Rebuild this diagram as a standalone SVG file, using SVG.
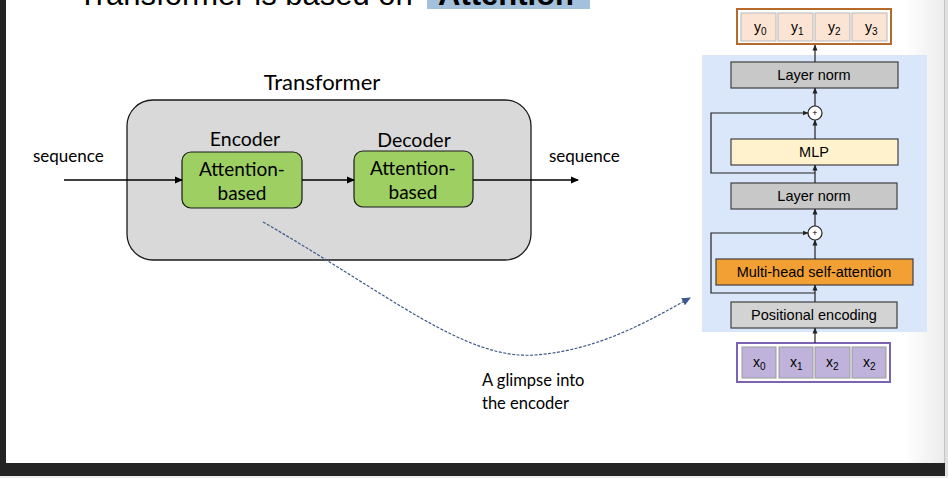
<svg xmlns="http://www.w3.org/2000/svg" width="948" height="478" viewBox="0 0 948 478">
<defs>
<style>
.lbl{font-family:Lato,"Open Sans","Liberation Sans",sans-serif;fill:#000}
.ar{font-family:"Liberation Sans",Arial,sans-serif;fill:#000}
.blk{stroke:#404040;stroke-width:1.2}
.ln{stroke:#222;stroke-width:1.2;fill:none}
</style>
<marker id="ah" markerWidth="8" markerHeight="8" refX="7" refY="4" orient="auto" markerUnits="userSpaceOnUse">
<path d="M0,0.5 L8,4 L0,7.5 Z" fill="#000"/>
</marker>
<marker id="sh" markerWidth="6" markerHeight="6" refX="5.5" refY="3" orient="auto" markerUnits="userSpaceOnUse">
<path d="M0,0.5 L6,3 L0,5.5 Z" fill="#222"/>
</marker>
<marker id="bh" markerWidth="9" markerHeight="9" refX="8" refY="4.5" orient="auto" markerUnits="userSpaceOnUse">
<path d="M0,0.5 L9,4.5 L0,8.5 Z" fill="#3d5a8a"/>
</marker>
<linearGradient id="edge" x1="0" x2="1" y1="0" y2="0">
<stop offset="0" stop-color="#ffffff"/>
<stop offset="1" stop-color="#ececec"/>
</linearGradient>
</defs>
<rect width="948" height="478" fill="#fff"/>
<rect x="905" y="0" width="39" height="463" fill="url(#edge)"/>
<rect x="944" y="0" width="1" height="478" fill="#c4c4c4"/>
<rect x="945" y="0" width="3" height="478" fill="#e0e0e0"/>
<rect x="0" y="476" width="948" height="2" fill="#ececec"/>
<rect x="0" y="463" width="945" height="13" fill="#232323"/>
<rect x="0" y="0" width="6" height="476" fill="#232323"/>

<g id="title">
<rect x="427" y="0" width="163" height="9" fill="#a3c0dc"/>
<text x="78" y="5" class="ar" font-size="31">Transformer is based on</text>
<text x="438" y="5" class="ar" font-size="31" font-weight="bold" fill="#222">Attention</text>
</g>

<g id="transformer">
<rect x="127" y="100" width="404" height="160" rx="26" fill="#d9d9d9" stroke="#1a1a1a" stroke-width="1.3"/>
<text x="322" y="90" class="lbl" font-size="22" text-anchor="middle">Transformer</text>
</g>

<g id="encoder">
<text x="245" y="146" class="lbl" font-size="19.5" text-anchor="middle">Encoder</text>
<rect x="182" y="152" width="120" height="56" rx="9" fill="#9dcf62" stroke="#1a1a1a" stroke-width="1.2"/>
<text x="242" y="176" class="lbl" font-size="19" text-anchor="middle">Attention-</text>
<text x="242" y="200" class="lbl" font-size="19" text-anchor="middle">based</text>
</g>

<g id="decoder">
<text x="414" y="147" class="lbl" font-size="19.5" text-anchor="middle">Decoder</text>
<rect x="354" y="151" width="119" height="56" rx="9" fill="#9dcf62" stroke="#1a1a1a" stroke-width="1.2"/>
<text x="413" y="175" class="lbl" font-size="19" text-anchor="middle">Attention-</text>
<text x="413" y="199" class="lbl" font-size="19" text-anchor="middle">based</text>
</g>

<g id="labels">
<text x="33" y="162" class="lbl" font-size="17">sequence</text>
<text x="549" y="162" class="lbl" font-size="17">sequence</text>
<text x="482" y="386" class="lbl" font-size="16.5">A glimpse into</text>
<text x="482" y="409" class="lbl" font-size="16.5">the encoder</text>
</g>

<g id="panel">
<rect x="702" y="55" width="225" height="277" fill="#dae7fb"/>
</g>

<g id="outputs">
<rect x="737" y="9" width="154" height="35" fill="#fff" stroke="#b5692a" stroke-width="2"/>
<rect x="741" y="13" width="35" height="28" fill="#fbe4d3" stroke="#b8b8b8"/>
<rect x="778" y="13" width="35" height="28" fill="#fbe4d3" stroke="#b8b8b8"/>
<rect x="815" y="13" width="35" height="28" fill="#fbe4d3" stroke="#b8b8b8"/>
<rect x="852" y="13" width="35" height="28" fill="#fbe4d3" stroke="#b8b8b8"/>
<text x="754" y="32" class="ar" font-size="14">y<tspan font-size="10" dy="3">0</tspan></text>
<text x="791" y="32" class="ar" font-size="14">y<tspan font-size="10" dy="3">1</tspan></text>
<text x="828" y="32" class="ar" font-size="14">y<tspan font-size="10" dy="3">2</tspan></text>
<text x="865" y="32" class="ar" font-size="14">y<tspan font-size="10" dy="3">3</tspan></text>
</g>

<g id="layernorm2">
<rect x="731" y="62" width="167" height="26" fill="#c8c8c8" class="blk"/>
<text x="814" y="80" class="ar" font-size="14.5" text-anchor="middle">Layer norm</text>
</g>
<g id="add2">
<circle cx="815" cy="113" r="7" fill="#fff" stroke="#222" stroke-width="1.2"/>
<text x="815" y="116" class="ar" font-size="9" text-anchor="middle">+</text>
</g>
<g id="mlp">
<rect x="731" y="139" width="167" height="26" fill="#fff2cc" class="blk"/>
<text x="814" y="157" class="ar" font-size="14.5" text-anchor="middle">MLP</text>
</g>
<g id="layernorm1">
<rect x="731" y="183" width="166" height="26" fill="#c8c8c8" class="blk"/>
<text x="814" y="201" class="ar" font-size="14.5" text-anchor="middle">Layer norm</text>
</g>
<g id="add1">
<circle cx="815" cy="233" r="7" fill="#fff" stroke="#222" stroke-width="1.2"/>
<text x="815" y="236" class="ar" font-size="9" text-anchor="middle">+</text>
</g>
<g id="mhsa">
<rect x="716" y="259" width="197" height="26" fill="#f29f33" class="blk"/>
<text x="814" y="277" class="ar" font-size="14.5" text-anchor="middle">Multi-head self-attention</text>
</g>
<g id="posenc">
<rect x="731" y="302" width="166" height="26" fill="#d3d3d3" class="blk"/>
<text x="814" y="320" class="ar" font-size="14.5" text-anchor="middle">Positional encoding</text>
</g>

<g id="inputs">
<rect x="737" y="343" width="153" height="39" fill="#fff" stroke="#7b62b3" stroke-width="2"/>
<rect x="742" y="347" width="34" height="31" fill="#bfb3db" stroke="#9a9a9a"/>
<rect x="779" y="347" width="34" height="31" fill="#bfb3db" stroke="#9a9a9a"/>
<rect x="815" y="347" width="35" height="31" fill="#bfb3db" stroke="#9a9a9a"/>
<rect x="852" y="347" width="34" height="31" fill="#bfb3db" stroke="#9a9a9a"/>
<text x="753" y="367" class="ar" font-size="14">x<tspan font-size="10" dy="3">0</tspan></text>
<text x="790" y="367" class="ar" font-size="14">x<tspan font-size="10" dy="3">1</tspan></text>
<text x="826" y="367" class="ar" font-size="14">x<tspan font-size="10" dy="3">2</tspan></text>
<text x="863" y="367" class="ar" font-size="14">x<tspan font-size="10" dy="3">2</tspan></text>
</g>

<g id="connectors">
<line x1="64" y1="180" x2="182" y2="180" stroke="#000" stroke-width="1.3" marker-end="url(#ah)"/>
<line x1="302" y1="180" x2="354" y2="180" stroke="#000" stroke-width="1.3" marker-end="url(#ah)"/>
<line x1="473" y1="180" x2="578" y2="180" stroke="#000" stroke-width="1.3" marker-end="url(#ah)"/>
<path d="M263,222 C390,295 465,360 535,355 C600,350 650,320 690,298" fill="none" stroke="#3d5a8a" stroke-width="1.2" stroke-dasharray="3,1.5" marker-end="url(#bh)"/>
<line x1="815" y1="62" x2="815" y2="45" class="ln" marker-end="url(#sh)"/>
<line x1="815" y1="106" x2="815" y2="88" class="ln" marker-end="url(#sh)"/>
<line x1="815" y1="139" x2="815" y2="120" class="ln" marker-end="url(#sh)"/>
<line x1="815" y1="183" x2="815" y2="165" class="ln" marker-end="url(#sh)"/>
<polyline points="815,173 711,173 711,113 808,113" class="ln" marker-end="url(#sh)"/>
<line x1="815" y1="226" x2="815" y2="209" class="ln" marker-end="url(#sh)"/>
<line x1="815" y1="259" x2="815" y2="240" class="ln" marker-end="url(#sh)"/>
<line x1="815" y1="302" x2="815" y2="285" class="ln" marker-end="url(#sh)"/>
<polyline points="815,293 711,293 711,233 808,233" class="ln" marker-end="url(#sh)"/>
<line x1="815" y1="343" x2="815" y2="328" class="ln" marker-end="url(#sh)"/>
</g>
</svg>
